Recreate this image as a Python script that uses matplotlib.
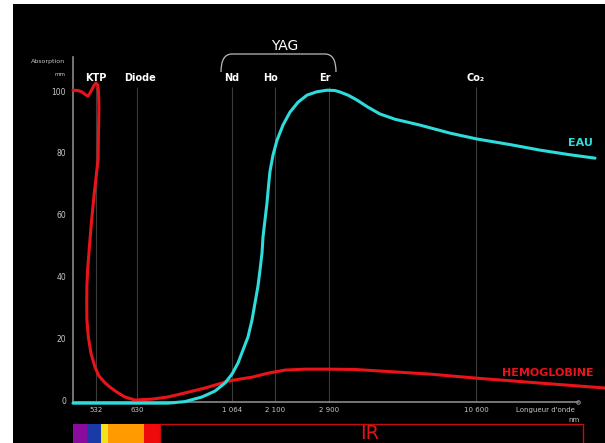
import matplotlib.pyplot as plt
import numpy as np
from matplotlib.path import Path
from matplotlib.patches import PathPatch, Rectangle

# axe des longueurs d'onde (non linéaire, comme sur la figure)
axis_wl = [56, 400, 532, 630, 1064, 2100, 2900, 10600, 17000]
axis_px = [13, 73, 96, 137, 232, 275, 329, 476, 605]

tick_wl = [532, 630, 1064, 2100, 2900, 10600]
tick_labels = ['532', '630', '1 064', '2 100', '2 900', '10 600']
laser_names = ['KTP', 'Diode', 'Nd', 'Ho', 'Er', 'Co₂']
laser_wl = [532, 645, 1064, 2000, 2840, 10600]

# hémoglobine
hb_wl = [400, 429, 452, 475, 486, 498, 509, 521, 532, 536, 538, 539, 538, 537,
         534, 521, 507, 495, 484, 480, 479, 480, 488, 503, 526, 539, 554, 568,
         585, 601, 625, 699, 772, 849, 941, 1046, 1257, 1546, 1931, 2248, 2544,
         2952, 4262, 5571, 8190, 10600, 13775, 17000]
hb_abs = [100.3, 100.2, 99.7, 98.7, 98.4, 99.4, 100.6, 101.9, 102.6, 101.9,
          99.7, 94.8, 87.4, 77.7, 74.4, 66.3, 58.3, 50.2, 42.1, 37.2, 31.4, 25.9,
          20.4, 15.2, 10.7, 7.8, 5.5, 3.9, 2.3, 1.0, 0.0, 0.3, 1.0, 2.3, 3.9, 6.1,
          6.8, 7.4, 8.7, 9.7, 10.0, 10.0, 9.9, 9.4, 8.4, 7.1, 5.5, 3.9]

# eau
eau_wl = [400, 772, 849, 927, 986, 1032, 1064, 1209, 1329, 1449, 1546, 1618,
          1690, 1739, 1787, 1811, 1859, 1907, 1943, 1979, 2052, 2130, 2218, 2322,
          2441, 2574, 2722, 2870, 3214, 3476, 3895, 4367, 4943, 5571, 6357, 7667,
          9238, 10650, 12287, 13775, 15263, 16504]
eau_abs = [-1.0, -1.0, -0.5, 1.0, 2.9, 5.5, 8.4, 12.0, 16.2, 20.4, 25.9, 31.4,
           36.9, 42.1, 47.6, 52.8, 58.3, 63.8, 69.2, 74.0, 79.3, 84.1, 89.0,
           93.2, 96.4, 98.7, 99.8, 100.3, 100.2, 99.7, 98.7, 97.1, 94.8, 92.6,
           90.9, 89.0, 86.4, 84.5, 82.7, 80.9, 79.4, 78.3]

# bandes du spectre visible
band_edges = [400, 480, 544, 561, 662, 735]
band_colors = ['#8a0c9c', '#1a3aa8', '#f2e21e', '#ff9a00', '#ee0a0a']


def fwd(x):
    return np.interp(x, axis_wl, axis_px)


def inv(x):
    return np.interp(x, axis_px, axis_wl)


def fx(px):
    return px / 605


def fy(py):
    return 1 - py / 443


fig = plt.figure(figsize=(6.05, 4.43), dpi=100, facecolor='white')
ax = fig.add_axes([fx(13), 0, fx(592), fy(4)])
ax.set_facecolor('black')
ax.set_xscale('function', functions=(fwd, inv))
ax.set_xlim(56, 17000)
ax.set_ylim(-13.9, 128.2)

grid_c = '#3c3c3c'
axis_c = '#8a8a8a'
txt_c = '#c8c8c8'

ax.vlines(tick_wl, -0.6, 101.3, color=grid_c, lw=0.8, zorder=1)

for s in ['top', 'right']:
    ax.spines[s].set_visible(False)
ax.spines['left'].set_position(('data', 400))
ax.spines['left'].set_bounds(-0.6, 111)
ax.spines['bottom'].set_position(('data', -0.6))
ax.spines['bottom'].set_bounds(400, 15660)
for s in ['left', 'bottom']:
    ax.spines[s].set_color(axis_c)
    ax.spines[s].set_linewidth(1.2)

ax.set_xticks(tick_wl, tick_labels)
ax.set_yticks([0, 20, 40, 60, 80, 100])
ax.xaxis.set_minor_locator(plt.NullLocator())
ax.tick_params(axis='x', length=0, pad=4, labelsize=5, colors=txt_c)
ax.tick_params(axis='y', length=0, pad=5, labelsize=5.5, colors=txt_c)

ax.plot(eau_wl, eau_abs, color='#2fdcdc', lw=2.2, zorder=4,
        solid_capstyle='round', solid_joinstyle='round')
ax.plot(hb_wl, hb_abs, color='#e8141a', lw=2.2, zorder=3,
        solid_capstyle='round', solid_joinstyle='round')

ax.plot([15660], [-0.6], 'o', ms=2.5, mfc='black', mec=axis_c, mew=0.8, clip_on=False)

for w, n in zip(laser_wl, laser_names):
    ax.text(w, 104.2, n, color='white', fontsize=7, fontweight='bold',
            ha='center', va='center')

ax.text(15760, 83.2, 'EAU', color='#2fdcdc', fontsize=8,
        fontweight='bold', ha='center', va='center')
ax.text(14172, 8.8, 'HEMOGLOBINE', color='#e8141a', fontsize=8,
        fontweight='bold', ha='center', va='center')

# spectre
for i, c in enumerate(band_colors):
    ax.axvspan(band_edges[i], band_edges[i + 1], 0, 0.0433, color=c, lw=0)
ax.add_patch(Rectangle((735, -14.5), 15908 - 735, 14.5 - 7.77, fill=False,
                       ec='#c80c0c', lw=1, zorder=2))
ax.text(5048, -10.9, 'IR', color='#e01414', fontsize=14, ha='center', va='center')

# textes des axes
fig.text(fx(48), fy(61), 'Absorption', color=txt_c, fontsize=4.5, ha='center', va='center')
fig.text(fx(60), fy(74), 'mm', color=txt_c, fontsize=4, ha='center', va='center')
fig.text(fx(545), fy(410), "Longueur d'onde", color=txt_c, fontsize=5, ha='center', va='center')
fig.text(fx(574), fy(420), 'nm', color=txt_c, fontsize=5, ha='center', va='center')

# accolade YAG
fig.text(fx(285), fy(46), 'YAG', color='white', fontsize=10, ha='center', va='center')
verts = [(fx(221), fy(72)), (fx(221), fy(54)), (fx(232), fy(54)),
         (fx(325), fy(54)), (fx(336), fy(54)), (fx(336), fy(72))]
codes = [Path.MOVETO, Path.CURVE3, Path.CURVE3, Path.LINETO, Path.CURVE3, Path.CURVE3]
fig.add_artist(PathPatch(Path(verts, codes), fill=False, ec='#bbbbbb', lw=0.9,
                         transform=fig.transFigure))

fig.savefig('out.png', dpi=100, facecolor='white')
